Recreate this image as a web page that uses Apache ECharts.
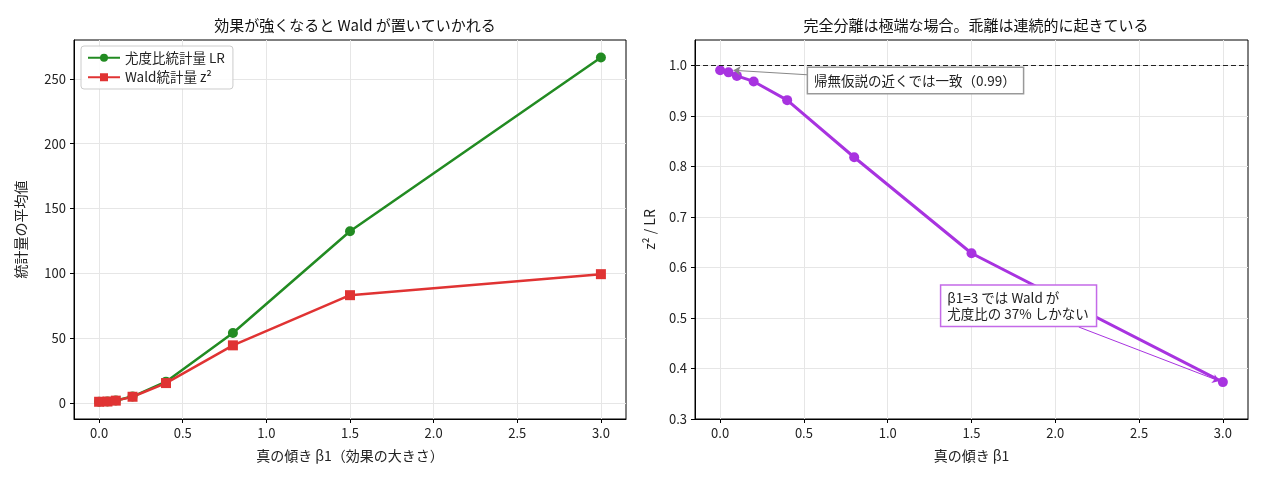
<!DOCTYPE html>
<html>
<head>
<meta charset="utf-8">
<script src="https://cdn.jsdelivr.net/npm/echarts@6/dist/echarts.min.js"></script>
<style>
  html, body {margin: 0; padding: 0; background: #fff;}
  #main {width: 1265px; height: 484px;}
</style>
</head>
<body>
<div id="main"></div>
<script>
// 真の傾き β1
const beta = [0, 0.05, 0.1, 0.2, 0.4, 0.8, 1.5, 3.0];
// 統計量の平均値
const lrMean = [1.0, 1.2, 1.9, 5.0, 16.5, 54.0, 132.5, 266.5];
const waldMean = [0.99, 1.18, 1.86, 4.85, 15.4, 44.5, 83.2, 99.4];
// z² / LR
const ratio = [0.990, 0.986, 0.979, 0.968, 0.931, 0.818, 0.628, 0.373];
const xTicks = [0, 0.5, 1, 1.5, 2, 2.5, 3];
const leftYTicks = [0, 50, 100, 150, 200, 250];
const rightYTicks = [0.3, 0.4, 0.5, 0.6, 0.7, 0.8, 0.9, 1.0];

const FONT = '"Noto Sans CJK JP", "Noto Sans", sans-serif';
const GREEN = '#228b22';
const RED = '#e03333';
const PURPLE = '#a833e0';

const pairs = (xs, ys) => xs.map((x, i) => [x, ys[i]]);

function xAxis(gridIndex, name, fmt) {
  return {
    type: 'value', gridIndex: gridIndex, min: -0.15, max: 3.15,
    name: name, nameLocation: 'middle', nameGap: 30,
    nameTextStyle: {fontFamily: FONT, fontSize: 14, color: '#222'},
    axisLine: {show: true, onZero: false, lineStyle: {color: '#000'}},
    axisTick: {show: true, customValues: xTicks, length: 4, lineStyle: {color: '#000'}},
    axisLabel: {customValues: xTicks, fontFamily: FONT, fontSize: 13, color: '#222', formatter: fmt},
    splitLine: {show: true, lineStyle: {color: '#e6e6e6'}}
  };
}

function yAxis(gridIndex, name, min, max, ticks, fmt, gap) {
  return {
    type: 'value', gridIndex: gridIndex, min: min, max: max,
    name: name, nameLocation: 'middle', nameGap: gap, nameRotate: 90,
    nameTextStyle: {fontFamily: FONT, fontSize: 14, color: '#222'},
    axisLine: {show: true, onZero: false, lineStyle: {color: '#000'}},
    axisTick: {show: true, customValues: ticks, length: 4, lineStyle: {color: '#000'}},
    axisLabel: {customValues: ticks, fontFamily: FONT, fontSize: 13, color: '#222', formatter: fmt},
    splitLine: {show: true, lineStyle: {color: '#e6e6e6'}}
  };
}

const chart = echarts.init(document.getElementById('main'));
chart.setOption({
  animation: false,
  backgroundColor: '#fff',
  title: [
    {text: '効果が強くなると Wald が置いていかれる', left: 350, top: 13, textAlign: 'center',
     textStyle: {fontFamily: FONT, fontSize: 15, fontWeight: 'normal', color: '#111'}},
    {text: '完全分離は極端な場合。乖離は連続的に起きている', left: 971, top: 13, textAlign: 'center',
     textStyle: {fontFamily: FONT, fontSize: 15, fontWeight: 'normal', color: '#111'}}
  ],
  grid: [
    {left: 74, right: 639, top: 40, bottom: 65, show: true, borderColor: '#000', borderWidth: 1},
    {left: 695, right: 17, top: 40, bottom: 65, show: true, borderColor: '#000', borderWidth: 1}
  ],
  legend: {
    left: 81, top: 46, orient: 'vertical', itemGap: 6, itemWidth: 32, itemHeight: 10,
    padding: [5, 8, 5, 6],
    borderColor: '#cccccc', borderWidth: 1, borderRadius: 3, backgroundColor: 'rgba(255,255,255,0.85)',
    textStyle: {fontFamily: FONT, fontSize: 13.5, color: '#222'},
    data: ['尤度比統計量 LR', 'Wald統計量 z²']
  },
  xAxis: [
    xAxis(0, '真の傾き β1（効果の大きさ）', v => v.toFixed(1)),
    xAxis(1, '真の傾き β1', v => v.toFixed(1))
  ],
  yAxis: [
    yAxis(0, '統計量の平均値', -12.3, 280, leftYTicks, v => String(v), 46),
    yAxis(1, 'z² / LR', 0.3, 1.05, rightYTicks, v => v.toFixed(1), 38)
  ],
  series: [
    {
      name: '尤度比統計量 LR', type: 'line', xAxisIndex: 0, yAxisIndex: 0,
      data: pairs(beta, lrMean), symbol: 'circle', symbolSize: 10,
      lineStyle: {color: GREEN, width: 2.5}, itemStyle: {color: GREEN}
    },
    {
      name: 'Wald統計量 z²', type: 'line', xAxisIndex: 0, yAxisIndex: 0,
      data: pairs(beta, waldMean), symbol: 'rect', symbolSize: 10,
      lineStyle: {color: RED, width: 2.5}, itemStyle: {color: RED}
    },
    {
      name: 'ratio', type: 'line', xAxisIndex: 1, yAxisIndex: 1,
      data: pairs(beta, ratio), symbol: 'circle', symbolSize: 10,
      lineStyle: {color: PURPLE, width: 3}, itemStyle: {color: PURPLE},
      markLine: {
        silent: true, symbol: ['none', 'none'], label: {show: false},
        data: [
          {yAxis: 1.0, lineStyle: {color: '#222', type: [5, 3], width: 1.2}},
          [
            {coord: [0.53, 0.981], lineStyle: {color: '#888', width: 1, type: 'solid'}, symbol: 'none'},
            {coord: [0.08, 0.99], symbol: 'arrow', symbolSize: 7}
          ],
          [
            {coord: [2.14, 0.482], lineStyle: {color: PURPLE, width: 1, type: 'solid'}, symbol: 'none'},
            {coord: [2.98, 0.375], symbol: 'arrow', symbolSize: 7}
          ]
        ]
      },
      markPoint: {
        silent: true, symbol: 'rect', symbolSize: 0,
        data: [
          {coord: [0.525, 0.970],
           label: {show: true, position: 'right', distance: 0, formatter: '帰無仮説の近くでは一致（0.99）',
             fontFamily: FONT, fontSize: 13.5, color: '#222', lineHeight: 17,
             backgroundColor: '#fff', borderColor: '#999', borderWidth: 1.5, padding: [4, 7, 4, 6]}},
          {coord: [1.32, 0.524],
           label: {show: true, position: 'right', distance: 0, formatter: 'β1=3 では Wald が\n尤度比の 37% しかない',
             fontFamily: FONT, fontSize: 13.5, color: '#222', lineHeight: 16, align: 'left',
             backgroundColor: '#fff', borderColor: '#c46ae8', borderWidth: 1.5, padding: [4, 7, 4, 6]}}
        ]
      }
    }
  ]
});
</script>
</body>
</html>
